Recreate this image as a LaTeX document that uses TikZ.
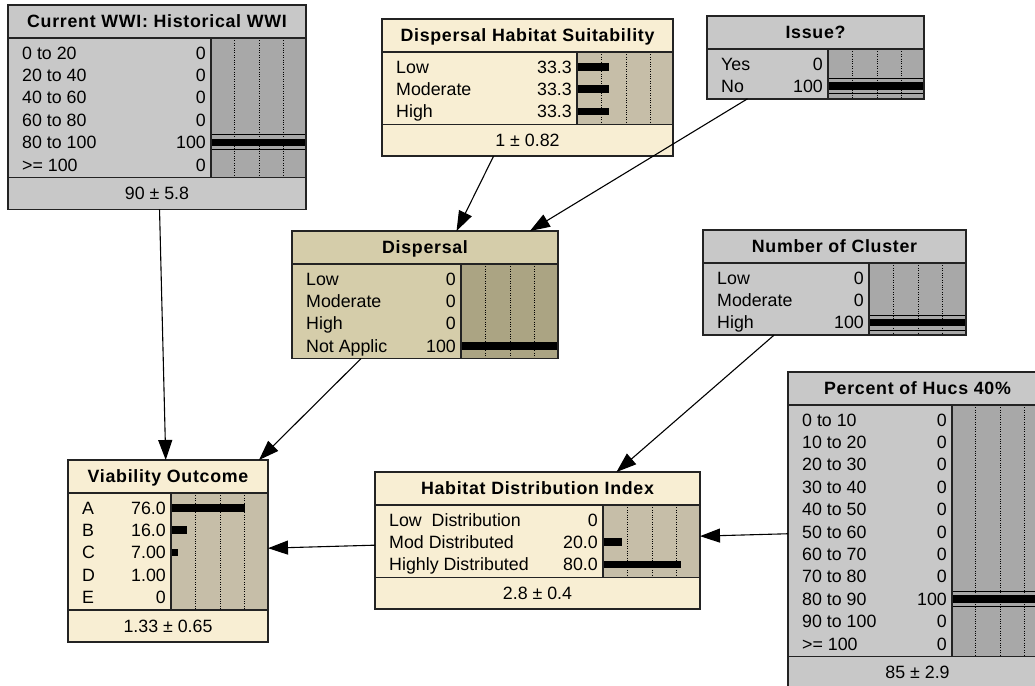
\documentclass[tikz,border=0pt]{standalone}
\usepackage{fontspec}
\setmainfont{Liberation Sans}
\newfontfamily\headfont{Liberation Sans}[LetterSpace=4]
\usetikzlibrary{arrows.meta}

\definecolor{gray head}{RGB}{200,200,200}
\definecolor{gray panel}{RGB}{168,168,168}
\definecolor{cream head}{RGB}{248,238,211}
\definecolor{cream panel}{RGB}{198,190,168}
\definecolor{tan head}{RGB}{213,205,170}
\definecolor{tan panel}{RGB}{171,164,131}
\definecolor{frame}{RGB}{35,35,35}

% #1 colour set, #2 name, #3 left, #4 top, #5 right, #6 left of bar panel,
% #7 title, #8 state/value/percent list, #9 mean (empty: no bottom row)
\newcommand{\beliefnode}[9]{%
  \foreach \s [count=\nn] in {#8} {\xdef\nrows{\nn}}%
  \pgfmathsetmacro\areatop{#4+33}%
  \pgfmathsetmacro\areabot{\areatop+\nrows*22.4+5}%
  \def\boxbot{\areabot}%
  \if\relax\detokenize{#9}\relax\else\pgfmathsetmacro\boxbot{\areabot+32}\fi
  \node[nodebox,fill=#1 head,minimum width=#5-#3,minimum height=\boxbot-#4] (#2) at (#3,#4) {};
  \fill[#1 panel] (#6,\areatop) rectangle (#5,\areabot);
  \foreach \f in {0.25,0.51,0.76}
    \draw[gridline] ({#6+\f*(#5-#6)},\areatop) -- ({#6+\f*(#5-#6)},\areabot);
  \foreach \lab/\val/\pc [count=\i] in {#8} {
    \pgfmathsetmacro\yc{\areatop+14.7+(\i-1)*22.4}
    \node[statetext,anchor=west] (#2-l\i) at (#3+14,\yc) {\lab};
    \node[statetext,anchor=east] (#2-v\i) at (#6-5,\yc) {\val};
    \ifdim\pc pt>0pt \fill ({#6},\yc-3.8) rectangle ({#6+\pc/100*(#5-#6)},\yc+3.8);\fi
    \ifdim\pc pt=100pt \draw[#1 hit] (#6,\yc-7.5) -- (#5,\yc-7.5) (#6,\yc+7.5) -- (#5,\yc+7.5);\fi
  }
  \draw[rule] (#3,\areatop) -- (#5,\areatop) (#6,\areatop) -- (#6,\areabot);
  \node[titletext] (#2-t) at ({(#3+#5)/2},#4+16.5) {#7};
  \if\relax\detokenize{#9}\relax\else
    \draw[rule] (#3,\areabot) -- (#5,\areabot);
    \node[statetext] (#2-m) at ({(#3+#5)/2},\areabot+16) {#9};
  \fi
  \draw[rule,line width=1.5pt] (#2.north west) rectangle (#2.south east);
}

\begin{document}
\begin{tikzpicture}[x=1pt,y=-1pt,>={Triangle[length=20pt,width=14pt]},
  nodebox/.style={anchor=north west,inner sep=0pt,outer sep=0pt},
  statetext/.style={inner sep=0pt,text height=12.8pt,text depth=0pt,font=\fontsize{17.8}{20}\selectfont},
  titletext/.style={inner sep=0pt,text height=12.8pt,text depth=0pt,font=\headfont\bfseries\fontsize{17.8}{20}\selectfont},
  gridline/.style={line width=0.8pt,dash pattern=on 1pt off 1.4pt},
  rule/.style={draw=frame,line width=1.3pt},
  gray hit/.style={draw=black,line width=1pt},
  cream hit/.style={draw=none},
  tan hit/.style={draw=none},
  edge/.style={->,line width=1.1pt}]
\useasboundingbox (0,0) rectangle (1035,685);
\fill[white] (0,0) rectangle (1035,685);

\beliefnode{gray}{wwi}{8}{5}{306}{211}{Current WWI: Historical WWI}
  {0 to 20/0/0, 20 to 40/0/0, 40 to 60/0/0, 60 to 80/0/0, 80 to 100/100/100, >= 100/0/0}{90 ± 5.8}
\beliefnode{cream}{dhs}{382}{19}{673}{577}{Dispersal Habitat Suitability}
  {Low/33.3/33.3, Moderate/33.3/33.3, High/33.3/33.3}{1 ± 0.82}
\beliefnode{gray}{issue}{707}{16}{924}{828}{Issue?}
  {Yes/0/0, No/100/100}{}
\beliefnode{tan}{disp}{292}{231}{558}{461}{Dispersal}
  {Low/0/0, Moderate/0/0, High/0/0, Not Applic/100/100}{}
\beliefnode{gray}{clust}{703}{230}{966}{869}{Number of Cluster}
  {Low/0/0, Moderate/0/0, High/100/100}{}
\beliefnode{cream}{via}{68}{460}{268}{171}{Viability Outcome}
  {A/76.0/76, B/16.0/16, C/7.00/7, D/1.00/1, E/0/0}{1.33 ± 0.65}
\beliefnode{cream}{hdi}{375}{472}{700}{603}{Habitat Distribution Index}
  {Low\ \ Distribution/0/0, Mod Distributed/20.0/20, Highly Distributed/80.0/80}{2.8 ± 0.4}
\beliefnode{gray}{hucs}{788}{372}{1047}{952}{Percent of Hucs 40\%}
  {0 to 10/0/0, 10 to 20/0/0, 20 to 30/0/0, 30 to 40/0/0, 40 to 50/0/0, 50 to 60/0/0,
   60 to 70/0/0, 70 to 80/0/0, 80 to 90/100/100, 90 to 100/0/0, >= 100/0/0}{85 ± 2.9}

% links
\draw[edge] (wwi) -- (via);
\draw[edge] (disp) -- (via);
\draw[edge] (dhs) -- (disp);
\draw[edge] (issue) -- (disp);
\draw[edge] (clust) -- (hdi);
\draw[edge] (hucs) -- (hdi);
\draw[edge] (hdi) -- (via);
\end{tikzpicture}
\end{document}
